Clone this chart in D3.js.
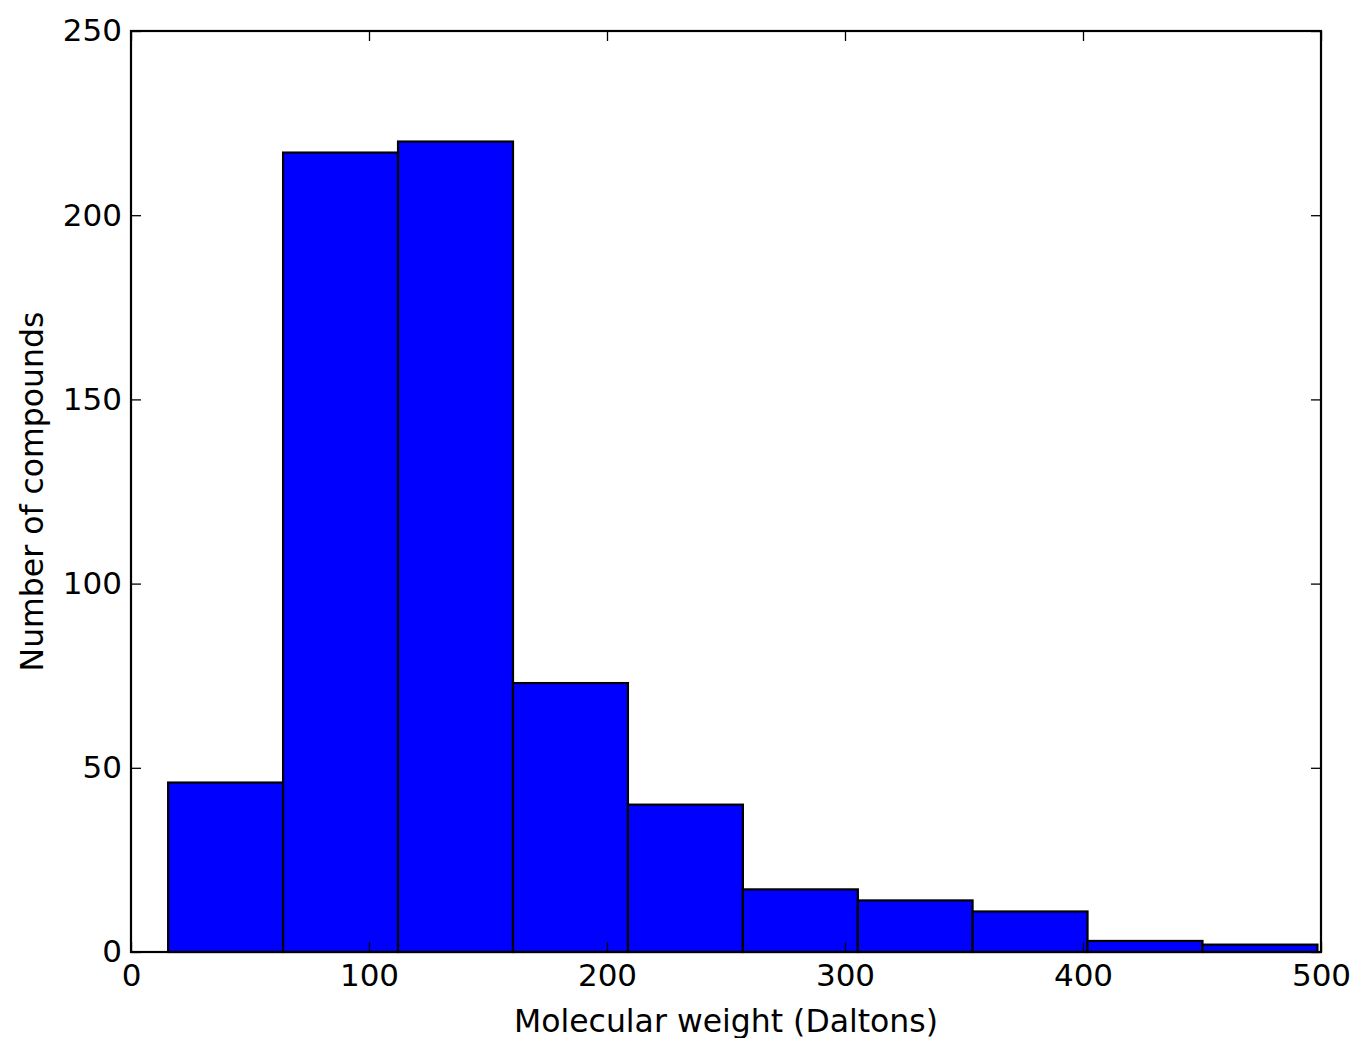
<!DOCTYPE html>
<html>
<head>
<meta charset="utf-8">
<script src="https://cdn.jsdelivr.net/npm/d3@7"></script>
<style>
  body { margin: 0; background: #fff; }
  svg { display: block; }
  text { font-family: "DejaVu Sans", sans-serif; }
</style>
</head>
<body>
<div id="chart"></div>
<script>
// histogram bins (Daltons) and counts
var binEdges = [15.6, 63.9, 112.2, 160.5, 208.8, 257.1, 305.4, 353.6, 401.9, 450.2, 498.5];
var counts = [46, 217, 220, 73, 40, 17, 14, 11, 3, 2];
var xTicks = [0, 100, 200, 300, 400, 500];
var yTicks = [0, 50, 100, 150, 200, 250];

var width = 1358, height = 1038;
var margin = { top: 31, right: 37, bottom: 86, left: 131 };
var w = width - margin.left - margin.right;
var h = height - margin.top - margin.bottom;

var svg = d3.select("#chart").append("svg")
    .attr("width", width)
    .attr("height", height);

var g = svg.append("g")
    .attr("transform", "translate(" + margin.left + "," + margin.top + ")");

var x = d3.scaleLinear().domain([0, 500]).range([0, w]);
var y = d3.scaleLinear().domain([0, 250]).range([h, 0]);

var bins = counts.map(function (c, i) {
    return { x0: binEdges[i], x1: binEdges[i + 1], count: c };
});

// bars
g.selectAll("rect.bar")
    .data(bins)
    .enter()
    .append("rect")
    .attr("class", "bar")
    .attr("x", function (d) { return x(d.x0); })
    .attr("y", function (d) { return y(d.count); })
    .attr("width", function (d) { return x(d.x1) - x(d.x0); })
    .attr("height", function (d) { return h - y(d.count); })
    .attr("fill", "#0000ff")
    .attr("stroke", "#000")
    .attr("stroke-width", 2.2);

// axes, ticks pointing inward
function styleAxis(sel, labels) {
    sel.select(".domain").remove();
    sel.selectAll(".tick line").attr("stroke", "#000").attr("stroke-width", 1.3);
    sel.selectAll(".tick text")
        .attr("fill", "#000")
        .style("font-size", "31px");
    if (!labels) sel.selectAll(".tick text").remove();
}

g.append("g")
    .attr("transform", "translate(0," + h + ")")
    .call(d3.axisBottom(x).tickValues(xTicks).tickSize(-10).tickPadding(12).tickFormat(d3.format("d")))
    .call(styleAxis, true);

g.append("g")
    .call(d3.axisTop(x).tickValues(xTicks).tickSize(-10))
    .call(styleAxis, false);

g.append("g")
    .call(d3.axisLeft(y).tickValues(yTicks).tickSize(-10).tickPadding(9).tickFormat(d3.format("d")))
    .call(styleAxis, true);

g.append("g")
    .attr("transform", "translate(" + w + ",0)")
    .call(d3.axisRight(y).tickValues(yTicks).tickSize(-10))
    .call(styleAxis, false);

// frame
g.append("rect")
    .attr("width", w)
    .attr("height", h)
    .attr("fill", "none")
    .attr("stroke", "#000")
    .attr("stroke-width", 2.2);

// axis titles
svg.append("text")
    .attr("x", margin.left + w / 2)
    .attr("y", 1032)
    .attr("text-anchor", "middle")
    .style("font-size", "31.5px")
    .text("Molecular weight (Daltons)");

svg.append("text")
    .attr("transform", "translate(43," + (margin.top + h / 2) + ") rotate(-90)")
    .attr("text-anchor", "middle")
    .style("font-size", "31.5px")
    .text("Number of compounds");
</script>
</body>
</html>
